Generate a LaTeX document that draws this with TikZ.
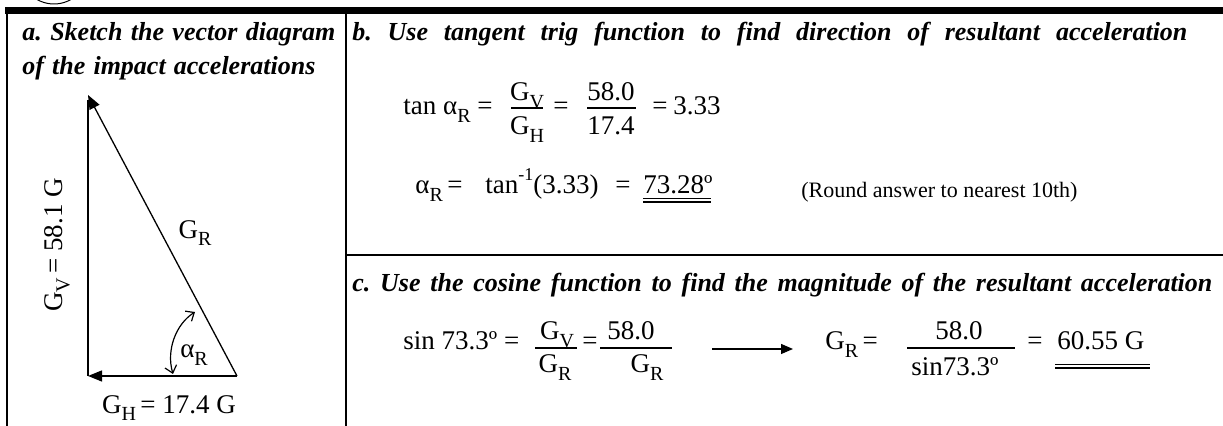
\documentclass[tikz,border=0pt]{standalone}
\usepackage{fontspec}
\setmainfont{Liberation Serif}
\usetikzlibrary{arrows.meta}
\newcommand{\fz}{\fontsize{13.5}{16}\selectfont}
\newcommand{\hz}{\fontsize{13}{16}\selectfont}
\newcommand{\lsb}[1]{\raisebox{-0.28em}{\fontsize{10}{11}\selectfont #1}}
\newcommand{\usp}[1]{\raisebox{0.5em}{\fontsize{9}{10}\selectfont #1}}
\newcommand{\hd}[2]{{\frenchspacing\makebox[#1][s]{#2}}}
\tikzset{
  t/.style={inner sep=0pt, anchor=base west, font=\fz},
  tc/.style={inner sep=0pt, anchor=base, font=\fz},
  head/.style={inner sep=0pt, anchor=base west, font=\hz\bfseries\itshape},
  rule/.style={line width=1pt},
  bar/.style={line width=0.6pt},
  vec/.style={line width=0.65pt, -{Triangle[length=7pt,width=5.5pt]}},
  arcarrow/.style={line width=0.6pt, {Straight Barb[length=3.5pt,width=6pt]}-{Straight Barb[length=3.5pt,width=6pt]}},
}
\begin{document}
\begin{tikzpicture}[x=0.5pt,y=-0.5pt]
\useasboundingbox (0,0) rectangle (1223,426);
% frame
\draw[line width=0.5pt] (54,-30) circle (34);
\draw[line width=3.5pt] (5,10.5) -- (1223,10.5);
\draw[rule] (6.5,10) -- (6.5,426);
\draw[rule] (345.5,10) -- (345.5,426);
\draw[rule] (345,255) -- (1223,255);
% headings
\node[head] (ha1) at (22,41) {\hd{156.5pt}{a. Sketch the vector diagram}};
\node[head] (ha2) at (22,75) {\hd{146.5pt}{of the impact accelerations}};
\node[head] (hb) at (352,41) {\hd{417.5pt}{b. Use tangent trig function to find direction of resultant acceleration}};
\node[head] (hc) at (352,292) {\hd{430pt}{c. Use the cosine function to find the magnitude of the resultant acceleration}};
% triangle
\coordinate (B) at (237,376);
\coordinate (L) at (88,376);
\coordinate (T) at (88,95);
\draw[line width=0.65pt] (L) -- (88,100);
\draw[vec] (B) -- (L);
\draw[vec] (B) -- (T);
\draw[arcarrow] (195,312) .. controls (176,324) and (166,350) .. (173,374);
\node[inner sep=0pt, font=\fz] (gr) at (195,233) {G\lsb{R}};
\node[inner sep=0pt, font=\fz] (ar) at (194,355) {α\lsb{R}};
\node[inner sep=0pt, font=\fz, rotate=90] (gv) at (57,245) {G\lsb{V}\,= 58.1 G};
\node[inner sep=0pt, font=\fz] (gh) at (169,408) {G\lsb{H}\,= 17.4 G};
% part b line 1
\node[t] (tan1) at (403,115) {tan α\lsb{R} =};
\node[tc] (f1n) at (527,101) {G\lsb{V}};
\node[tc] (f1d) at (527,135) {G\lsb{H}};
\draw[bar] (511,108) -- (543,108);
\node[t] (eq1) at (553,115) {=};
\node[tc] (f2n) at (611,101) {58.0};
\node[tc] (f2d) at (611,135) {17.4};
\draw[bar] (587,108) -- (636,108);
\node[t] (eq2) at (652,115) {=};
\node[t] (r1) at (673,115) {3.33};
% part b line 2
\node[t] (al) at (415,194) {α\lsb{R}\,=};
\node[t] (atan) at (485,194) {tan\usp{-1}(3.33)};
\node[t] (eq3) at (615,194) {=};
\node[t] (ans1) at (643,194) {73.28º};
\draw[bar] (643,198.5) -- (711,198.5);
\draw[bar] (643,202) -- (711,202);
\node[inner sep=0pt, anchor=base west, font=\fontsize{11}{12}\selectfont] (note) at (801,198) {(Round answer to nearest 10th)};
% part c
\node[t] (sin1) at (403,350) {sin 73.3º =};
\node[tc] (f3n) at (557,340) {G\lsb{V}};
\node[tc] (f3d) at (555,373) {G\lsb{R}};
\draw[bar] (535,348) -- (577,348);
\node[t] (eq4) at (582,350) {=};
\node[tc] (f4n) at (631,340) {58.0};
\node[tc] (f4d) at (647,373) {G\lsb{R}};
\draw[bar] (600,348) -- (672,348);
\coordinate (arS) at (712,349);
\coordinate (arE) at (793,349);
\draw[line width=0.65pt, -{Triangle[length=6pt,width=5pt]}] (arS) -- (arE);
\node[t] (grl) at (825,350) {G\lsb{R}\,=};
\node[tc] (f5n) at (959,340) {58.0};
\node[tc] (f5d) at (955,376) {sin73.3º};
\draw[bar] (907,348) -- (1015,348);
\node[t] (eq5) at (1027,350) {=};
\node[t] (ans2) at (1057,350) {60.55 G};
\draw[bar] (1055,364.5) -- (1150,364.5);
\draw[bar] (1055,368) -- (1150,368);
\end{tikzpicture}
\end{document}
